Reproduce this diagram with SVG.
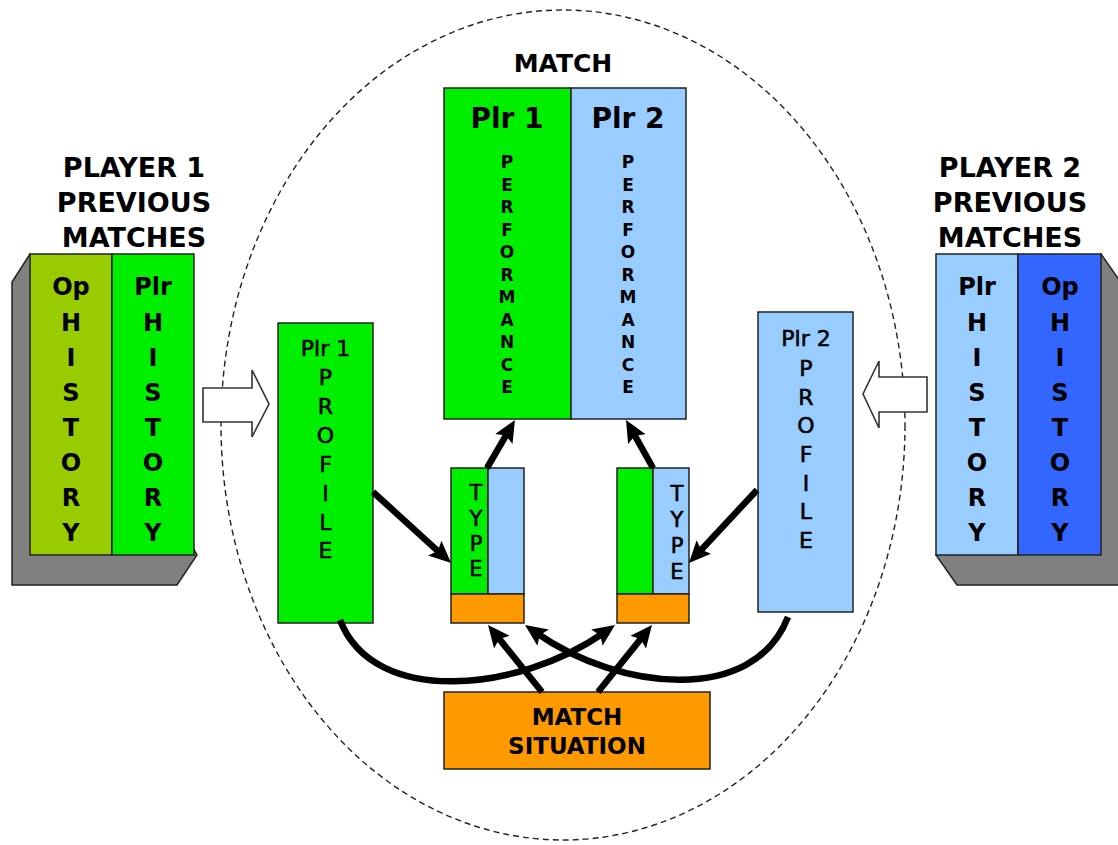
<svg xmlns="http://www.w3.org/2000/svg" width="1118" height="845" viewBox="0 0 1118 845">
<style>
.t{font-family:"DejaVu Sans","Liberation Sans",sans-serif;fill:#000;text-anchor:middle}
.b{font-weight:bold}
.m{stroke:#000;stroke-width:0.6}
.box{stroke:#222;stroke-width:1.5}
.g{fill:#00ee00}.lb{fill:#99ccff}.db{fill:#3366ff}.ol{fill:#99cc00}.or{fill:#ff9900}
.sh{fill:#808080;stroke:#222;stroke-width:1.5}
.c{fill:none;stroke:#000;stroke-width:6.5;marker-end:url(#ah)}
.blk{fill:#fff;stroke:#333;stroke-width:1.6}
</style>
<defs>
<marker id="ah" markerUnits="userSpaceOnUse" markerWidth="24" markerHeight="22" refX="8" refY="10" orient="auto">
<path d="M0,0 L22,10 L0,20 L4,10 z" fill="#000"/>
</marker>
</defs>
<rect width="1118" height="845" fill="#fff"/>
<ellipse id="match-area" cx="563" cy="425" rx="342" ry="415" fill="none" stroke="#222" stroke-width="1.4" stroke-dasharray="6,4"/>
<text class="t b" x="563" y="72" font-size="25">MATCH</text>

<g id="player1-history">
<text class="t b" x="134" y="177" font-size="27">PLAYER 1</text>
<text class="t b" x="134" y="212" font-size="27">PREVIOUS</text>
<text class="t b" x="134" y="247" font-size="27">MATCHES</text>
<polygon class="sh" points="30,254 12,282 12,585 177,585 197,555"/>
<rect class="box ol" x="30" y="254" width="82" height="301"/>
<rect class="box g" x="112" y="254" width="82" height="301"/>
<g class="t b" font-size="24">
<text x="71" y="295">Op</text><text x="71" y="331">H</text><text x="71" y="366">I</text><text x="71" y="401">S</text><text x="71" y="436">T</text><text x="71" y="471">O</text><text x="71" y="506">R</text><text x="71" y="541">Y</text>
<text x="153" y="295">Plr</text><text x="153" y="331">H</text><text x="153" y="366">I</text><text x="153" y="401">S</text><text x="153" y="436">T</text><text x="153" y="471">O</text><text x="153" y="506">R</text><text x="153" y="541">Y</text>
</g>
</g>

<g id="player2-history">
<text class="t b" x="1010" y="177" font-size="27">PLAYER 2</text>
<text class="t b" x="1010" y="212" font-size="27">PREVIOUS</text>
<text class="t b" x="1010" y="247" font-size="27">MATCHES</text>
<polygon class="sh" points="1101,254 1122,284 1122,585 957,585 936,555"/>
<rect class="box lb" x="936" y="254" width="82" height="301"/>
<rect class="box db" x="1018" y="254" width="83" height="301"/>
<g class="t b" font-size="24">
<text x="977" y="295">Plr</text><text x="977" y="331">H</text><text x="977" y="366">I</text><text x="977" y="401">S</text><text x="977" y="436">T</text><text x="977" y="471">O</text><text x="977" y="506">R</text><text x="977" y="541">Y</text>
<text x="1060" y="295">Op</text><text x="1060" y="331">H</text><text x="1060" y="366">I</text><text x="1060" y="401">S</text><text x="1060" y="436">T</text><text x="1060" y="471">O</text><text x="1060" y="506">R</text><text x="1060" y="541">Y</text>
</g>
</g>

<g id="performance">
<rect class="box g" x="444" y="88" width="127" height="331"/>
<rect class="box lb" x="571" y="88" width="115" height="331"/>
<text class="t b" x="507" y="128" font-size="28">Plr 1</text>
<text class="t b" x="628" y="128" font-size="28">Plr 2</text>
<g class="t b" font-size="17">
<text x="507" y="168">P</text><text x="507" y="190.5">E</text><text x="507" y="213">R</text><text x="507" y="235.5">F</text><text x="507" y="258">O</text><text x="507" y="280.5">R</text><text x="507" y="303">M</text><text x="507" y="325.5">A</text><text x="507" y="348">N</text><text x="507" y="370.5">C</text><text x="507" y="393">E</text>
<text x="628" y="168">P</text><text x="628" y="190.5">E</text><text x="628" y="213">R</text><text x="628" y="235.5">F</text><text x="628" y="258">O</text><text x="628" y="280.5">R</text><text x="628" y="303">M</text><text x="628" y="325.5">A</text><text x="628" y="348">N</text><text x="628" y="370.5">C</text><text x="628" y="393">E</text>
</g>
</g>

<g id="profile1">
<rect class="box g" x="278" y="323" width="95" height="300"/>
<g class="t m" font-size="22">
<text x="325.5" y="356">Plr 1</text><text x="325.5" y="385">P</text><text x="325.5" y="414">R</text><text x="325.5" y="443">O</text><text x="325.5" y="472">F</text><text x="325.5" y="501">I</text><text x="325.5" y="530">L</text><text x="325.5" y="558">E</text>
</g>
</g>

<g id="profile2">
<rect class="box lb" x="758" y="312" width="95" height="300"/>
<g class="t m" font-size="22">
<text x="806" y="346">Plr 2</text><text x="806" y="376">P</text><text x="806" y="405">R</text><text x="806" y="433">O</text><text x="806" y="462">F</text><text x="806" y="491">I</text><text x="806" y="519">L</text><text x="806" y="548">E</text>
</g>
</g>

<g id="type1">
<rect class="box g" x="451" y="468" width="37" height="126"/>
<rect class="box lb" x="488" y="468" width="36" height="126"/>
<rect class="box or" x="451" y="594" width="73" height="29"/>
<g class="t m" font-size="21">
<text x="476" y="500">T</text><text x="476" y="525.5">Y</text><text x="476" y="551">P</text><text x="476" y="576">E</text>
</g>
</g>

<g id="type2">
<rect class="box g" x="617" y="468" width="36" height="126"/>
<rect class="box lb" x="653" y="468" width="36" height="126"/>
<rect class="box or" x="617" y="594" width="72" height="29"/>
<g class="t m" font-size="21">
<text x="677" y="501">T</text><text x="677" y="527">Y</text><text x="677" y="553">P</text><text x="677" y="579">E</text>
</g>
</g>

<g id="match-situation">
<rect class="box or" x="444" y="692" width="266" height="77"/>
<text class="t b" x="577" y="725" font-size="23">MATCH</text>
<text class="t b" x="577" y="754" font-size="23">SITUATION</text>
</g>

<g id="connectors">
<polygon class="blk" points="203,388 252,388 252,370 269,404 252,437 252,422 203,422"/>
<polygon class="blk" points="927,377 879,377 879,361 863,394 879,428 879,412 927,412"/>
<line class="c" x1="373" y1="492" x2="440.7" y2="553.6"/>
<line class="c" x1="757" y1="490" x2="698.5" y2="552.8"/>
<line class="c" x1="487" y1="468" x2="507.9" y2="432.1"/>
<line class="c" x1="653" y1="468" x2="632.9" y2="432.2"/>
<line class="c" x1="542" y1="692" x2="496.8" y2="635.9"/>
<line class="c" x1="598" y1="692" x2="643.2" y2="635.9"/>
<path class="c" d="M340,620 C374,708 520.5,691 603.5,633"/>
<path class="c" d="M788,617 C754,705 619.5,691 536.5,633"/>
</g>
</svg>
